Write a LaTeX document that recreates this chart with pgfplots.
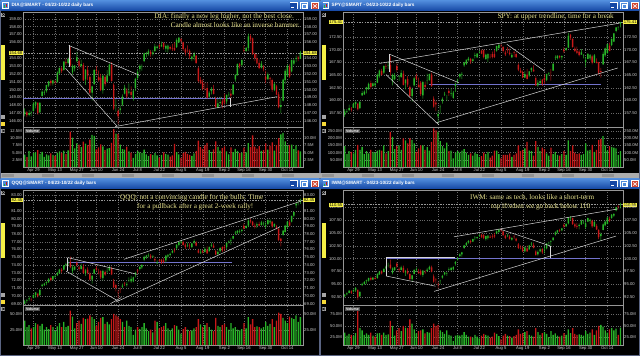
\documentclass[border=0pt]{standalone}
\usepackage{pgfplots}
\pgfplotsset{compat=1.18}
\usepackage{pgfplotstable}
\usepackage{fontspec}
\setmainfont{Liberation Serif}
\setsansfont{Liberation Sans}
\definecolor{upc}{RGB}{40,180,40}
\definecolor{dnc}{RGB}{200,25,25}
\definecolor{ann}{RGB}{232,226,140}
\definecolor{tbar}{RGB}{22,72,165}
\definecolor{tbarl}{RGB}{80,140,220}
\definecolor{lbl}{RGB}{205,205,205}
\definecolor{grd}{RGB}{105,105,105}
\definecolor{frm}{RGB}{150,150,150}
\definecolor{hl}{RGB}{115,115,205}
\definecolor{yel}{RGB}{245,240,70}
\definecolor{tl}{RGB}{215,215,215}
\definecolor{wbord}{RGB}{90,100,130}
\definecolor{closer}{RGB}{210,70,50}

\pgfplotstableread{
o h l c v
146.9 147.6 146.6 147.19 4.3
147.1 147.3 146.5 146.76 3.4
146.8 147.4 146.6 147.01 5.6
147.0 147.3 146.6 147.12 3.7
147.3 148.4 147.2 148.18 4.8
148.1 148.5 147.6 148.40 5.2
148.3 148.4 146.8 147.00 5.9
147.1 148.4 147.0 148.31 4.6
149.2 149.9 149.1 149.73 5.3
149.6 149.9 149.3 149.68 3.5
149.8 150.6 149.6 150.56 4.4
150.5 151.1 150.3 151.05 4.0
151.1 151.3 150.5 150.82 4.7
150.8 151.2 150.5 151.18 4.2
151.0 151.2 150.6 150.91 3.9
150.9 152.3 150.9 152.15 5.0
152.1 152.8 152.0 152.75 5.4
152.7 152.9 152.1 152.33 4.9
152.5 153.6 152.4 153.54 5.7
153.5 153.9 153.1 153.35 4.5
153.4 154.1 153.2 153.88 5.8
153.9 155.4 152.9 153.07 12.3
152.2 153.2 151.9 152.94 10.2
152.7 153.1 152.3 153.03 6.5
153.6 154.8 153.5 154.09 8.2
153.6 153.9 152.6 153.02 7.8
153.0 153.8 152.8 153.24 6.9
153.1 153.4 151.1 151.16 8.8
151.3 152.6 150.6 152.54 8.1
152.5 153.0 151.2 151.77 7.6
151.6 151.8 149.4 149.61 9.5
149.6 150.5 148.6 150.40 11.2
150.7 152.6 150.6 152.48 10.8
152.5 153.0 151.9 152.39 6.1
151.6 152.4 151.0 151.22 6.8
151.5 152.0 149.8 149.95 7.9
149.9 151.9 149.5 151.76 7.2
151.6 151.9 150.4 150.70 5.9
151.0 152.5 150.9 151.79 6.4
151.8 153.3 151.7 153.18 6.6
153.1 153.5 151.0 151.12 8.4
150.6 150.8 147.4 147.58 13.2
148.0 148.8 147.2 148.00 11.6
147.3 147.6 145.6 146.60 11.4
147.4 148.0 146.9 147.60 7.8
148.1 149.4 147.9 149.10 6.2
149.5 150.6 149.4 150.24 6.0
149.9 150.2 148.8 149.10 7.1
149.6 150.8 149.4 149.75 5.4
149.7 150.4 148.9 149.32 5.0
148.9 150.0 148.6 149.88 3.2
150.2 151.5 149.8 151.36 4.6
151.5 152.5 151.3 152.25 5.5
152.6 153.2 152.2 153.00 5.1
152.9 153.2 152.4 152.91 4.9
153.6 154.7 153.5 154.61 6.0
154.5 154.8 154.1 154.64 4.4
154.6 155.1 154.3 154.84 3.8
154.8 155.0 154.2 154.52 4.5
154.5 155.0 154.3 154.71 4.1
154.9 155.8 154.8 155.49 4.9
155.3 155.6 155.1 155.44 4.0
155.6 155.8 155.2 155.45 3.3
155.5 156.1 155.4 155.68 4.2
155.9 156.0 155.1 155.43 5.1
155.2 155.7 154.8 155.56 4.6
155.1 155.7 154.7 155.59 4.3
155.4 155.6 155.0 155.21 3.6
155.3 155.8 154.9 155.20 4.0
155.3 156.0 154.9 155.00 8.0
155.4 156.5 155.3 156.28 5.2
156.0 156.7 155.9 156.59 4.4
156.4 156.6 155.9 156.12 3.2
156.0 156.1 154.9 155.18 4.8
155.1 155.3 154.3 154.70 5.3
155.0 155.6 154.7 154.98 4.6
154.9 155.1 153.9 154.25 4.2
153.9 154.3 153.6 154.19 3.9
154.2 154.8 153.7 154.51 4.7
154.3 154.4 153.3 153.37 5.6
152.7 152.9 150.9 151.12 9.2
151.2 151.6 150.7 150.81 6.9
150.9 151.3 149.9 150.10 6.3
150.1 150.9 149.9 150.02 7.5
150.2 150.9 148.8 148.97 8.4
149.1 149.8 148.9 149.63 5.9
149.8 150.3 149.4 150.10 5.3
150.1 150.6 149.4 149.46 6.1
148.8 149.1 147.7 147.76 8.9
147.7 148.8 147.6 148.24 7.0
148.3 149.1 148.1 148.40 5.7
148.5 148.8 147.6 148.10 6.6
148.9 149.5 148.1 148.34 7.2
148.5 149.4 148.2 149.30 5.4
149.3 149.7 149.1 149.37 4.4
149.5 150.1 148.5 149.23 6.8
149.4 150.7 149.3 150.63 5.2
151.3 151.9 151.0 151.91 6.3
151.8 153.3 151.8 153.26 5.6
153.2 153.4 152.7 153.00 4.8
153.1 153.8 152.9 153.76 5.0
155.0 155.6 154.7 154.94 6.7
154.9 155.4 154.8 155.29 5.1
155.3 157.1 154.9 156.77 8.3
156.8 157.0 156.1 156.36 6.9
156.5 156.6 154.4 154.52 11.0
154.5 154.7 153.6 154.01 7.1
154.0 154.5 153.2 153.34 6.4
153.4 153.8 152.6 152.74 7.3
152.8 153.6 152.7 153.29 5.6
152.9 153.1 152.3 152.58 5.9
151.6 152.4 150.8 151.30 8.2
151.3 152.2 151.3 151.92 6.0
151.5 151.6 150.5 151.33 7.4
151.2 151.4 149.7 150.00 8.6
150.0 150.9 149.8 150.73 5.7
150.4 150.6 149.3 149.36 7.6
149.4 149.7 147.6 147.76 10.0
147.8 148.9 147.0 148.03 11.3
148.6 151.4 148.5 151.27 11.9
151.2 152.6 150.7 152.37 8.9
151.8 153.2 151.6 153.02 7.4
152.9 153.2 151.5 151.68 7.7
152.3 153.8 152.2 153.74 7.8
153.3 153.9 153.1 153.72 6.2
153.9 154.3 153.5 154.00 7.5
154.1 154.3 153.6 153.92 5.8
153.9 154.9 153.9 154.68 5.4
}\dia

\pgfplotstableread{
o h l c v
157.2 158.3 156.8 157.88 145
157.7 158.3 157.5 157.88 90
158.1 159.2 157.9 158.52 110
158.4 158.7 157.8 158.22 105
158.6 159.6 158.5 159.36 95
159.3 159.8 158.5 159.76 120
159.4 159.5 158.0 158.27 155
158.5 159.9 158.3 159.76 120
161.0 161.9 160.9 161.44 140
161.2 162.0 161.1 161.75 90
162.2 162.7 161.4 162.60 110
162.3 163.5 162.1 163.27 95
163.4 163.9 162.3 162.67 120
162.9 163.5 162.6 163.37 105
163.0 163.6 162.6 163.38 100
163.5 165.3 163.4 165.03 115
164.8 166.1 164.5 165.88 120
165.8 166.2 164.9 165.05 115
165.5 166.9 165.2 166.75 150
166.7 167.2 166.2 166.63 95
166.9 167.6 166.2 166.92 110
167.0 168.7 164.9 165.54 245
163.8 165.3 163.0 165.05 210
164.2 165.4 164.0 164.96 125
166.8 167.3 165.6 166.01 145
164.7 165.0 163.8 164.84 150
164.6 166.0 164.5 165.44 120
165.3 165.9 163.0 163.07 200
163.4 164.2 162.2 164.04 185
164.2 164.8 162.7 163.14 165
162.7 163.0 160.6 160.89 200
160.9 162.6 159.8 162.26 190
163.0 164.7 162.8 164.34 165
164.8 165.3 163.9 164.28 105
163.1 164.5 162.8 162.61 130
163.5 163.8 160.9 161.25 150
161.0 163.9 160.4 163.64 150
163.1 163.7 162.0 162.67 120
163.9 165.3 163.2 163.90 140
164.0 165.3 163.9 165.18 115
165.1 165.5 162.7 162.89 175
160.4 160.8 158.6 158.82 270
159.6 160.0 157.9 159.24 255
156.9 158.0 155.5 157.31 245
158.7 159.2 157.5 158.80 180
159.9 160.6 159.4 160.33 145
161.2 161.7 160.9 161.32 130
160.6 161.1 159.9 160.63 170
161.9 162.3 160.9 161.50 110
161.3 162.5 160.8 161.41 115
160.5 161.9 160.4 161.54 60
162.9 163.5 161.7 163.19 100
163.9 164.3 163.3 164.05 110
164.7 165.3 164.3 165.23 100
165.1 165.6 164.2 165.26 115
166.9 167.6 166.6 167.50 125
167.2 168.0 167.0 168.02 100
168.0 168.6 167.7 168.25 85
168.2 168.4 167.2 167.63 95
167.8 168.3 167.5 168.09 80
168.8 169.4 168.3 168.94 100
168.5 169.3 168.4 169.21 90
169.5 169.8 169.2 169.55 70
169.8 170.0 169.1 169.24 75
169.9 170.0 168.3 168.59 100
168.2 169.2 168.0 169.03 90
168.3 169.2 167.5 169.17 105
168.6 169.1 168.3 168.53 65
169.1 169.6 168.3 168.60 80
169.1 169.9 168.4 168.57 115
169.8 170.8 169.6 170.69 115
170.3 170.9 170.1 170.97 90
170.8 171.1 170.4 170.71 60
170.5 170.7 169.4 169.74 85
169.4 169.8 168.8 169.09 85
169.8 170.5 169.3 169.75 85
169.4 170.2 168.9 169.14 95
168.5 169.3 168.4 168.95 70
169.5 169.8 168.6 169.42 85
169.1 169.5 168.4 168.54 95
167.0 167.3 165.8 166.07 150
165.9 166.4 165.4 165.49 110
165.6 165.9 164.4 164.50 120
164.5 165.8 164.4 165.20 130
165.1 166.2 164.2 164.20 175
164.9 165.8 164.6 165.71 115
166.0 166.5 165.6 166.38 110
166.1 166.9 165.7 165.72 80
164.4 164.9 162.9 162.99 180
163.0 164.0 162.7 163.50 140
163.4 164.3 163.2 163.80 110
164.1 164.2 162.9 163.20 135
164.4 165.1 163.2 163.95 125
164.0 165.3 163.8 165.18 95
165.2 165.6 164.9 165.33 80
165.5 166.2 163.9 165.48 135
165.9 167.3 165.9 167.24 90
168.4 168.9 168.0 168.44 105
168.4 168.9 168.1 168.84 85
168.8 168.9 168.3 168.48 80
168.5 168.9 168.0 168.75 90
170.0 170.5 169.3 169.68 110
169.9 170.4 169.8 170.30 85
170.4 173.3 170.3 172.73 185
172.9 173.1 171.9 172.26 110
172.1 172.2 170.4 170.56 150
170.2 170.6 169.5 169.71 100
169.8 170.6 169.1 169.35 90
169.6 170.0 168.7 168.91 95
169.0 170.1 169.0 169.48 85
168.8 169.1 168.3 168.80 90
167.6 168.6 166.6 167.96 165
168.2 169.3 168.1 169.16 115
168.3 169.1 167.9 168.95 120
168.7 169.0 167.1 167.43 155
167.5 169.1 167.4 168.89 105
167.6 168.3 167.3 167.42 120
167.5 167.6 165.1 165.48 190
165.8 166.4 164.5 165.60 195
167.1 169.6 167.0 169.17 215
168.9 170.4 168.6 170.26 150
169.3 171.1 169.2 171.08 115
170.8 171.4 169.8 169.70 145
170.9 172.2 170.7 172.07 140
171.6 173.3 171.5 173.22 135
173.7 174.4 173.4 174.40 130
174.4 174.6 173.9 174.40 85
175.1 175.4 174.4 175.41 110
}\spy

\pgfplotstableread{
o h l c v
69.0 69.5 68.9 69.30 40
69.4 69.6 69.1 69.45 30
69.6 70.0 69.4 69.70 33
69.6 69.8 69.3 69.55 28
69.8 70.2 69.7 70.10 30
70.1 70.5 69.8 70.45 36
70.3 70.4 69.8 69.95 34
70.1 70.9 70.0 70.80 32
71.3 71.6 71.1 71.45 35
71.4 71.7 71.3 71.60 26
71.7 71.9 71.4 71.80 30
71.8 72.3 71.7 72.20 27
72.3 72.5 71.9 72.05 33
72.1 72.6 72.0 72.55 30
72.5 72.7 72.3 72.60 24
72.7 73.1 72.6 72.95 31
73.0 73.5 72.9 73.40 36
73.4 73.6 73.0 73.20 30
73.4 74.0 73.3 73.95 38
74.0 74.3 73.8 74.10 30
74.2 74.6 73.9 74.25 32
74.4 75.1 73.6 73.75 55
73.2 74.0 72.9 73.70 46
73.4 73.9 73.3 73.80 28
74.3 74.5 73.8 74.00 36
73.7 73.9 73.2 73.50 40
73.5 74.2 73.4 73.90 35
73.8 74.1 72.9 72.95 44
73.0 73.5 72.6 73.30 42
73.4 73.7 72.8 73.00 43
72.9 73.1 72.0 72.10 48
72.1 72.7 71.6 72.60 45
72.9 73.5 72.8 73.45 42
73.6 73.9 73.2 73.40 32
73.0 73.5 72.8 72.95 38
73.2 73.3 72.2 72.40 44
72.3 73.4 72.0 73.25 45
73.1 73.3 72.6 72.75 35
73.1 73.6 72.9 73.15 38
73.3 73.9 73.2 73.70 34
73.6 73.8 72.7 72.80 42
71.9 72.2 71.0 71.15 50
71.4 71.6 70.6 71.05 48
70.5 70.8 69.7 70.45 46
70.9 71.1 70.4 70.85 42
71.2 71.6 71.0 71.35 38
71.6 71.8 71.3 71.55 30
71.4 71.8 71.2 71.55 40
72.0 72.4 71.8 72.00 32
71.9 72.6 71.7 72.20 30
71.9 72.5 71.8 72.40 18
72.8 73.1 72.4 73.00 26
73.3 73.5 72.9 73.20 30
73.5 73.9 73.3 73.75 27
73.7 74.1 73.5 74.00 30
74.7 75.2 74.5 75.05 36
75.0 75.3 74.8 75.20 28
75.2 75.5 75.0 75.25 24
75.2 75.4 74.8 75.00 26
75.1 75.3 74.9 75.15 22
74.8 75.1 74.4 74.60 40
74.2 74.6 74.1 74.35 38
74.6 74.8 74.4 74.55 28
74.7 74.8 74.1 74.25 30
74.6 74.9 74.2 74.40 32
74.6 75.3 74.3 75.20 36
75.1 75.4 74.9 75.30 28
75.3 75.6 75.1 75.45 25
75.6 76.0 75.5 75.80 28
75.9 76.2 75.6 75.80 33
76.2 76.7 76.0 76.60 32
76.6 77.0 76.4 76.95 26
76.9 77.2 76.7 77.05 20
77.0 77.1 76.5 76.60 27
76.6 76.8 76.1 76.30 30
76.5 76.9 76.3 76.55 26
76.5 76.8 76.1 76.45 24
76.3 76.9 76.2 76.80 25
76.9 77.3 76.7 77.10 28
76.9 77.1 76.4 76.50 30
75.9 76.1 75.5 75.60 42
75.6 76.0 75.4 75.70 34
75.8 76.0 75.5 75.65 30
75.7 76.3 75.6 76.10 33
76.0 76.4 75.4 75.50 36
75.8 76.4 75.7 76.30 30
76.5 76.9 76.3 76.60 26
76.5 76.8 76.2 76.25 24
75.8 76.0 75.3 75.35 44
75.4 75.9 75.2 75.70 32
75.8 76.3 75.6 76.20 30
76.3 76.4 75.7 75.85 33
76.3 76.6 75.8 76.15 35
76.3 76.9 76.1 76.85 30
76.9 77.2 76.8 77.05 26
77.1 77.5 76.6 77.20 36
77.4 77.8 77.3 77.75 28
78.1 78.4 77.9 78.20 30
78.2 78.5 78.0 78.40 26
78.3 78.6 78.1 78.35 25
78.4 78.7 78.2 78.55 27
79.1 79.4 78.6 78.70 36
78.8 79.1 78.7 79.05 28
79.1 79.9 78.9 79.75 45
79.8 80.0 79.4 79.60 34
79.6 79.7 79.0 79.15 42
79.1 79.4 78.7 78.95 30
79.1 79.5 78.8 79.30 31
79.3 79.6 79.0 79.10 30
79.2 79.7 79.1 79.50 28
79.3 79.6 79.1 79.30 30
79.0 79.5 78.7 79.15 38
79.3 79.9 79.2 79.80 32
79.5 79.9 79.3 79.70 35
79.6 79.7 78.8 79.00 42
79.0 79.4 78.9 79.30 30
78.9 79.2 78.6 78.70 40
78.7 78.7 77.1 77.25 52
77.4 77.5 76.4 77.10 50
77.9 78.5 77.8 78.45 44
78.3 79.2 78.2 79.10 40
78.9 79.7 78.8 79.60 36
79.5 79.8 79.0 79.10 46
79.6 80.4 79.5 80.35 44
80.4 80.9 80.2 80.85 42
81.7 82.0 81.4 81.95 48
82.0 82.3 81.7 82.05 38
82.4 82.6 81.9 82.45 45
}\qqq

\pgfplotstableread{
o h l c v
92.6 93.1 92.4 92.95 35
93.0 93.4 92.8 93.20 28
93.3 93.9 93.2 93.75 32
93.6 93.8 93.1 93.35 30
93.6 94.0 93.4 93.80 27
93.8 94.4 93.5 94.30 34
93.9 94.0 91.9 92.40 89
92.6 93.6 92.5 93.50 45
94.8 95.3 94.6 95.05 40
95.0 95.6 94.9 95.40 30
95.6 95.9 95.1 95.75 33
95.7 96.3 95.5 96.20 30
96.2 96.5 95.7 95.90 35
95.9 96.4 95.8 96.30 28
96.2 96.5 95.9 96.05 26
96.2 97.1 96.1 97.00 33
96.9 97.6 96.8 97.45 34
97.5 97.7 96.9 97.10 30
97.4 98.1 97.3 98.00 35
98.1 98.6 97.9 98.45 30
98.6 99.2 98.3 98.60 31
98.8 99.8 97.9 98.20 61
97.2 98.3 96.9 98.10 50
97.8 98.4 97.6 98.30 28
99.0 99.3 98.2 98.50 40
98.0 98.3 97.3 97.80 45
97.8 98.6 97.7 98.30 38
98.2 98.6 97.2 97.35 50
97.3 97.8 96.6 97.50 46
97.6 98.1 96.9 97.10 45
97.0 97.1 95.8 96.00 64
96.0 96.8 95.5 96.70 55
97.0 97.9 96.9 97.80 42
97.9 98.3 97.4 98.00 33
97.4 98.0 97.0 97.20 38
97.6 97.9 96.7 96.90 40
96.8 97.8 96.4 97.65 42
97.4 97.8 97.0 97.30 33
97.6 98.2 97.4 97.85 36
97.9 98.6 97.8 98.40 35
98.3 98.6 97.3 97.45 45
96.5 96.9 95.3 95.50 55
95.9 96.2 95.1 95.80 50
95.0 95.5 94.2 94.90 52
95.6 95.9 95.0 95.70 40
96.3 96.8 96.1 96.60 36
96.9 97.4 96.7 97.30 32
97.0 97.4 96.6 97.10 40
97.8 98.3 97.6 97.90 30
97.8 98.4 97.6 98.20 28
97.9 98.5 97.7 98.40 16
99.0 99.5 98.6 99.30 28
99.8 100.3 99.6 100.10 30
100.5 101.0 100.3 100.80 28
100.8 101.3 100.4 101.20 30
102.1 102.7 101.9 102.60 36
102.6 103.2 102.5 103.00 30
103.1 103.6 102.9 103.40 26
103.4 103.7 102.9 103.20 26
103.3 103.9 103.2 103.80 24
104.0 104.4 103.6 104.10 30
104.0 104.3 103.8 104.20 26
104.5 104.8 104.2 104.60 22
104.7 104.9 104.0 104.20 28
104.6 104.8 103.8 104.00 32
103.8 104.5 103.5 104.40 30
104.0 104.6 103.7 104.50 28
104.3 104.6 104.0 104.10 24
104.4 104.8 103.9 104.30 26
104.6 105.0 104.0 104.30 35
104.9 105.5 104.8 105.30 32
105.2 105.8 105.0 105.70 27
105.7 105.9 105.2 105.50 20
105.3 105.4 104.4 104.60 28
104.5 104.7 103.8 104.00 32
104.4 104.9 104.2 104.50 28
104.3 104.6 103.7 103.90 27
103.7 104.2 103.5 104.00 24
104.3 104.6 103.8 104.20 27
103.9 104.1 103.3 103.50 30
102.8 103.0 101.9 102.10 42
102.1 102.6 101.8 102.00 32
102.1 102.5 101.3 101.40 34
101.4 102.4 101.2 102.20 36
102.0 102.6 101.3 101.40 38
101.8 102.7 101.7 102.60 30
102.8 103.2 102.4 102.90 28
102.7 103.1 102.0 102.10 26
101.4 101.7 100.6 100.70 45
100.8 101.6 100.6 101.30 36
101.4 102.0 101.2 101.80 30
101.9 102.0 100.9 101.20 34
101.8 102.4 101.0 101.90 36
102.0 103.0 101.8 102.90 32
103.0 103.3 102.7 103.10 25
103.3 103.6 102.5 103.40 38
103.6 104.2 103.5 104.10 30
104.7 105.3 104.5 105.10 33
105.1 105.6 104.9 105.50 28
105.5 105.8 105.2 105.40 26
105.5 106.0 105.3 105.90 28
106.6 106.9 106.0 106.30 34
106.3 106.9 106.2 106.80 30
106.9 108.1 106.7 107.90 42
107.9 108.3 107.5 108.00 34
107.9 108.0 106.6 106.80 45
106.7 107.0 106.0 106.30 32
106.4 107.0 105.8 106.20 30
106.4 106.9 105.7 106.60 31
106.7 107.6 106.6 107.40 30
107.1 107.5 106.8 107.10 28
106.2 107.2 105.8 106.90 38
107.2 108.0 107.1 107.90 32
107.3 107.8 106.8 107.60 35
107.4 107.6 106.0 106.30 42
106.3 107.3 106.2 107.10 30
106.4 106.8 105.6 105.70 40
105.6 105.7 103.8 104.20 50
104.4 105.1 103.5 104.80 52
105.6 106.9 105.5 106.70 48
106.5 107.4 106.3 107.20 40
106.8 108.1 106.7 108.00 35
107.7 108.2 107.1 107.40 42
107.9 108.7 107.8 108.60 45
108.4 108.9 108.1 108.70 40
109.4 110.1 109.2 110.00 44
110.2 110.5 109.6 110.10 30
110.5 110.9 109.8 110.55 46
}\iwm

\newcommand{\lblfont}{\sffamily\fontsize{4.2}{5}\selectfont}

\pgfplotsset{
  base/.style={scale only axis, width=280bp, anchor=north west,
    axis background/.style={fill=black},
    xmin=-0.8, xmax=128.2,
    clip mode=individual,
    axis line style={frm, line width=0.4bp},
    major tick length=0pt,
    xtick={4,14,24,33,43,52,62,72,82,92,101,111,121},
    xmajorgrids, ymajorgrids,
    major grid style={grd, dotted, line width=0.35bp},
    ticklabel style={font=\lblfont, text=lbl, inner sep=1bp},
    /pgf/number format/assume math mode=true},
  price/.style={base, height=115bp, xticklabels={},
    /pgf/number format/fixed, /pgf/number format/fixed zerofill, /pgf/number format/precision=2,
    extra y tick style={grid=none, yticklabel style={fill=yel, text=black, inner sep=0.6bp}}},
  over/.style={scale only axis, width=280bp, height=115bp, anchor=north west,
    xmin=-0.8, xmax=128.2, hide axis, clip mode=individual},
  vol/.style={base, height=40bp,
    xticklabels={Apr 29,May 13,May 27,Jun 10,Jun 24,Jul 8,Jul 22,Aug 5,Aug 19,Sep 2,Sep 16,Sep 30,Oct 14}},
  tline/.style={tl, line width=0.5bp, forget plot},
  hline/.style={hl, line width=0.8bp, forget plot},
}

% candlesticks: wick axis and body axis, both stacked bars over the same frame
\newcommand{\candles}[4]{% #1 at, #2 ymin, #3 ymax, #4 table
  \begin{axis}[over, at={#1}, ymin=#2, ymax=#3, ybar stacked, bar width=0.5bp]
    \addplot[fill=none, draw=none, forget plot] table[x expr=\coordindex, y=l] {#4};
    \addplot[fill=upc, draw=none, forget plot] table[x expr=\coordindex,
      y expr={\thisrow{c}>=\thisrow{o} ? \thisrow{h}-\thisrow{l} : 0}] {#4};
    \addplot[fill=dnc, draw=none, forget plot] table[x expr=\coordindex,
      y expr={\thisrow{c}<\thisrow{o} ? \thisrow{h}-\thisrow{l} : 0}] {#4};
  \end{axis}
  \begin{axis}[over, at={#1}, ymin=#2, ymax=#3, ybar stacked, bar width=1.45bp]
    \addplot[fill=none, draw=none, forget plot] table[x expr=\coordindex,
      y expr={min(\thisrow{o},\thisrow{c})}] {#4};
    \addplot[fill=upc, draw=none, forget plot] table[x expr=\coordindex,
      y expr={\thisrow{c}>=\thisrow{o} ? max(\thisrow{c}-\thisrow{o},0.04) : 0}] {#4};
    \addplot[fill=dnc, draw=none, forget plot] table[x expr=\coordindex,
      y expr={\thisrow{c}<\thisrow{o} ? \thisrow{o}-\thisrow{c} : 0}] {#4};
  \end{axis}}
\newcommand{\volbars}[1]{%
  \addplot[ybar, bar width=1.3bp, bar shift=0pt, fill=upc, draw=none, forget plot]
    table[x expr=\coordindex, y expr={\thisrow{c}>=\thisrow{o} ? \thisrow{v} : nan}] {#1};
  \addplot[ybar, bar width=1.3bp, bar shift=0pt, fill=dnc, draw=none, forget plot]
    table[x expr=\coordindex, y expr={\thisrow{c}<\thisrow{o} ? \thisrow{v} : nan}] {#1};
}
\newcommand{\rlab}[3]{%
  \pgfplotsinvokeforeach{#1}{\node[anchor=west, font=\lblfont, text=lbl, inner sep=1bp]
    at (axis cs:128.2,##1) {\pgfmathprintnumber[fixed,fixed zerofill,precision=#2]{##1}#3};}}
\newcommand{\curlab}[2]{%
  \addplot[gray!80, line width=0.3bp, dash pattern=on 1.5bp off 1.2bp, forget plot] coordinates {(-0.8,#1) (128.2,#1)};
  \node[anchor=west, font=\lblfont, text=black, fill=yel, inner sep=0.6bp]
    at (axis cs:128.2,#1) {#2};}
\newcommand{\vollabel}{\node[anchor=north west, fill=black!70!white, text=white,
    font=\sffamily\bfseries\fontsize{3.6}{4}\selectfont, inner sep=0.7bp] at (rel axis cs:0.008,0.96) {Volume};}

\newcommand{\win}[3]{%
\begin{scope}[x=1bp, y=-1bp, shift={(#1,#2)}]
  \fill[black] (0,0) rectangle (320,178);
  \draw[wbord, line width=0.6bp] (0.3,0.3) rectangle (319.7,177.7);
  \shade[top color=tbarl, bottom color=tbar] (0.6,0.6) rectangle (319.4,10.6);
  \fill[white] (2.5,2) rectangle (9,8.8);
  \fill[tbarl] (3.2,3.4) rectangle (8.3,8.1);
  \fill[upc] (4,5.5) rectangle (5,7.6);
  \fill[dnc] (6,4.2) rectangle (7,7);
  \node[anchor=west, inner sep=0, text=white, font=\sffamily\bfseries\fontsize{4.7}{5}\selectfont] at (11.5,5.7) {#3};
  \fill[white] (289.5,2.4) rectangle (297.5,9.4);
  \fill[tbar] (290.2,3.1) rectangle (296.8,8.7);
  \fill[white] (291.4,7) rectangle (294.2,8);
  \fill[white] (300,2.4) rectangle (308,9.4);
  \fill[tbarl] (300.7,3.1) rectangle (307.3,8.7);
  \draw[white, line width=0.5bp] (301.8,4.2) rectangle (306.2,7.8);
  \fill[white] (311,2.4) rectangle (319,9.4);
  \fill[closer] (311.7,3.1) rectangle (318.3,8.7);
  \draw[white, line width=0.6bp] (313.2,4.4)--(316.8,7.6) (313.2,7.6)--(316.8,4.4);
  \fill[gray!70] (1.5,12.5) rectangle (5.5,16.5);
  \draw[black, line width=0.4bp] (2.3,13.3)--(4.7,15.7) (2.3,15.7)--(4.7,13.3);
  \fill[yel] (1.5,45) rectangle (5.5,80);
  \fill[gray!70] (1.5,115) rectangle (5.5,119);
  \fill[yel!80!orange] (1.5,121.5) rectangle (5.5,125.5);
  \fill[gray!70] (1.5,129) rectangle (5.5,133);
  \draw[black, line width=0.4bp] (2.3,129.8)--(4.7,132.2) (2.3,132.2)--(4.7,129.8);
\end{scope}}

\begin{document}
\begin{tikzpicture}
\useasboundingbox (0,0) rectangle (640bp,-356bp);
\fill[black] (0,0) rectangle (640bp,-356bp);
\win{0}{0}{DIA@SMART - 04/23-10/22 daily bars}
\win{320}{0}{SPY@SMART - 04/23-10/22 daily bars}
\win{0}{178}{QQQ@SMART - 04/23-10/22 daily bars}
\win{320}{178}{IWM@SMART - 04/23-10/22 daily bars}
\begin{scope}[x=1bp,y=-1bp]
  \fill[gray!65] (0.6,173.4) rectangle (639.4,177.6);
  \foreach \xx in {2,42,82,122,162,202,242,282,322,362,402,442,482,522,562,602} {\fill[gray!85] (\xx,174.2) rectangle (\xx+12,176.8);}
\end{scope}

% ---------------- DIA ----------------
\begin{axis}[price, at={(23bp,-12bp)}, ymin=145.25, ymax=159.85,
  ytick={146,147,148,149,150,151,152,153,154,156,157,158,159}, extra y ticks={154.68}]
  \addplot[hline] coordinates {(-0.8,148.85) (94.5,148.85)};
  \curlab{154.68}{154.68}
  \rlab{146,147,148,149,150,151,152,153,154,156,157,158,159}{2}{}
\end{axis}
\candles{(23bp,-12bp)}{145.25}{159.85}{\dia}
\begin{axis}[over, at={(23bp,-12bp)}, ymin=145.25, ymax=159.85]
  \addplot[tline] coordinates {(20.3,155.6) (53,151.8)};
  \addplot[tline] coordinates {(20.3,155.6) (20.3,152.9)};
  \addplot[tline] coordinates {(18.8,152.7) (42.4,145.4)};
  \addplot[tline] coordinates {(41.6,145.3) (116.3,149.1)};
  \addplot[tline] coordinates {(94.5,148.9) (94.5,147.8)};
\end{axis}
\begin{axis}[vol, at={(23bp,-127bp)}, ymin=0, ymax=13.9,
  ytick={2.5,5,7.5,10,12.5}, yticklabels={2.5M,5.0M,7.5M,10.0M,12.5M}]
  \volbars{\dia}
  \vollabel
  \rlab{2.5,5,7.5,10}{1}{M}
\end{axis}

% ---------------- SPY ----------------
\begin{axis}[price, at={(343bp,-12bp)}, ymin=154.8, ymax=177.4,
  ytick={157.5,160,162.5,165,167.5,170,172.5}, extra y ticks={175.41}]
  \addplot[hline] coordinates {(38.9,163.25) (118,163.25)};
  \curlab{175.41}{175.41}
  \rlab{157.5,160,162.5,165,167.5,170,172.5}{2}{}
\end{axis}
\candles{(343bp,-12bp)}{154.8}{177.4}{\spy}
\begin{axis}[over, at={(343bp,-12bp)}, ymin=154.8, ymax=177.4]
  \addplot[tline] coordinates {(16,167.3) (126.5,175.2)};
  \addplot[tline] coordinates {(20.6,169.1) (52.6,163.5)};
  \addplot[tline] coordinates {(20.6,169.1) (20.6,165.6)};
  \addplot[tline] coordinates {(19,165.1) (43.4,155.2)};
  \addplot[tline] coordinates {(41.9,155.6) (125.8,166.4)};
  \addplot[tline] coordinates {(74.7,171.05) (92.2,165.75)};
\end{axis}
\begin{axis}[vol, at={(343bp,-127bp)}, ymin=0, ymax=279,
  ytick={50,100,150,200,250}, yticklabels={50.0M,100.0M,150.0M,200.0M,250.0M}]
  \volbars{\spy}
  \vollabel
  \rlab{50,100,150,200,250}{1}{M}
\end{axis}

% ---------------- QQQ ----------------
\begin{axis}[price, at={(23bp,-190bp)}, ymin=68.83, ymax=83.7,
  ytick={69,70,71,72,73,74,75,76,77,78,79,80,81,83}, extra y ticks={82.45}]
  \addplot[hline] coordinates {(19.8,74.4) (95.3,74.4)};
  \curlab{82.45}{82.45}
  \rlab{69,70,71,72,73,74,75,76,77,78,79,80,81,83}{2}{}
\end{axis}
\candles{(23bp,-190bp)}{68.83}{83.7}{\qqq}
\begin{axis}[over, at={(23bp,-190bp)}, ymin=68.83, ymax=83.7]
  \addplot[tline] coordinates {(45.7,74.74) (127.3,82.26)};
  \addplot[tline] coordinates {(41.9,69.2) (117.4,78.9)};
  \addplot[tline] coordinates {(19.8,74.96) (51.8,72.8)};
  \addplot[tline] coordinates {(19.8,74.96) (19.8,73.2)};
  \addplot[tline] coordinates {(19.1,73.2) (42.7,69.4)};
  \addplot[tline] coordinates {(39.5,69.0) (44.5,69.8)};
\end{axis}
\begin{axis}[vol, at={(23bp,-305bp)}, ymin=2.7, ymax=63.6,
  ytick={25,50}, yticklabels={25.0M,50.0M}]
  \volbars{\qqq}
  \vollabel
  \rlab{25,50}{1}{M}
\end{axis}

% ---------------- IWM ----------------
\begin{axis}[price, at={(343bp,-190bp)}, ymin=90.93, ymax=113.4,
  ytick={92.5,95,97.5,100,102.5,105,107.5,110}, extra y ticks={110.55}]
  \addplot[hline] coordinates {(19,100) (117.4,100)};
  \curlab{110.55}{110.55}
  \rlab{92.5,95,97.5,100,102.5,105,107.5,110}{2}{}
\end{axis}
\candles{(343bp,-190bp)}{90.93}{113.4}{\iwm}
\begin{axis}[over, at={(343bp,-190bp)}, ymin=90.93, ymax=113.4]
  \addplot[tline] coordinates {(19,100.3) (51,100.3)};
  \addplot[tline] coordinates {(19,100.3) (19,96.6)};
  \addplot[tline] coordinates {(19,96.6) (41.9,94.6)};
  \addplot[tline] coordinates {(41.2,93.6) (125,104.4)};
  \addplot[tline] coordinates {(50.3,104.25) (125.8,109.7)};
  \addplot[tline] coordinates {(71.6,105.75) (94.5,102.5)};
  \addplot[tline] coordinates {(94.5,102.5) (94.5,100.2)};
\end{axis}
\begin{axis}[vol, at={(343bp,-305bp)}, ymin=7.5, ymax=96,
  ytick={25,50,75}, yticklabels={25.0M,50.0M,75.0M}]
  \volbars{\iwm}
  \vollabel
  \rlab{25,50,75}{1}{M}
\end{axis}

% ---------------- annotations ----------------
\begin{scope}[x=1bp,y=-1bp, every node/.style={text=ann, inner sep=0, font=\fontsize{7.2}{8}\selectfont}]
  \node[anchor=east] at (294,17) {DIA: finally a new leg higher, not the best close.};
  \node[anchor=east] at (300,25.5) {Candle almost looks like an inverse hammer.};
  \node[anchor=east] at (614,17) {SPY: at upper trendline, time for a break};
  \node[anchor=west] at (120,198) {QQQ: not a convincing candle for the bulls. Time};
  \node[anchor=west] at (137,206.5) {for a pullback after a great 2-week rally!};
  \node[anchor=west] at (470,198) {IWM: same as tech, looks like a short-term};
  \node[anchor=west] at (491,206.5) {top if/when we go back below 110};
\end{scope}
\end{tikzpicture}
\end{document}
